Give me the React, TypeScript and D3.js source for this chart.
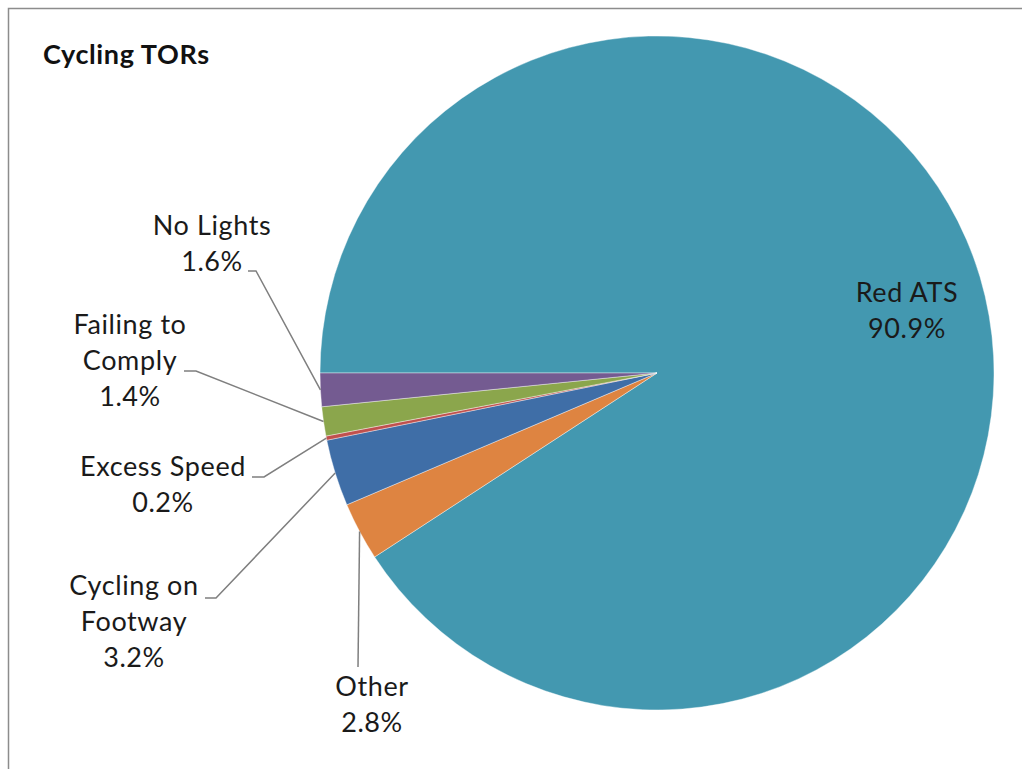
import * as d3 from 'd3';
import { useRef, useEffect } from 'react';

const categories = ['Red ATS', 'Other', 'Cycling on Footway', 'Excess Speed', 'Failing to Comply', 'No Lights'];
const values = [90.9, 2.8, 3.2, 0.2, 1.4, 1.6];
const colors = ['#4398b0', '#de8441', '#3f6ea7', '#c0504d', '#8ba64c', '#745b91'];
// label text lines per slice (last line is the percent)
const labelLines = [
    ['Red ATS'],
    ['Other'],
    ['Cycling on', 'Footway'],
    ['Excess Speed'],
    ['Failing to', 'Comply'],
    ['No Lights'],
];

const App = () => {
    const ref = useRef<SVGSVGElement>(null);

    useEffect(() => {
        if (!ref.current) return;
        const root = d3.select(ref.current);
        root.selectAll('*').remove();

        const width = 1022, height = 769;
        const cx = 657, cy = 373, r = 337;
        const font = 'Lato, "Open Sans", sans-serif';

        // outer border (only top/left visible in the crop)
        root.append('rect')
            .attr('x', 8.5).attr('y', 8.5)
            .attr('width', width + 20).attr('height', height + 20)
            .attr('fill', 'white')
            .attr('stroke', '#8c8c8c')
            .attr('stroke-width', 1.5);

        root.append('text')
            .attr('x', 43).attr('y', 64)
            .attr('font-family', font)
            .attr('font-weight', 'bold')
            .attr('font-size', 27)
            .attr('letter-spacing', 0.6)
            .attr('fill', '#111')
            .text('Cycling TORs');

        const pie = d3.pie<number>()
            .sort(null)
            .value(d => d)
            .startAngle(1.5 * Math.PI)
            .endAngle(3.5 * Math.PI);
        const arcs = pie(values);
        const arc = d3.arc<d3.PieArcDatum<number>>().innerRadius(0).outerRadius(r);

        const g = root.append('g').attr('transform', `translate(${cx},${cy})`);
        g.selectAll('path')
            .data(arcs)
            .enter().append('path')
            .attr('d', arc)
            .attr('fill', (_, i) => colors[i])
            .attr('stroke', 'white')
            .attr('stroke-width', 0.4);

        // label layout: text center x, first line center y, edge/elbow of leader
        const layout: { x: number; y: number; edge?: [number, number]; elbow?: [number, number] }[] = [
            { x: 907, y: 293 },
            { x: 372, y: 687, edge: [358, 667], elbow: [358, 667] },
            { x: 134, y: 586, edge: [205, 598], elbow: [216, 598] },
            { x: 163, y: 467, edge: [252, 477], elbow: [264, 477] },
            { x: 130, y: 325, edge: [184, 371], elbow: [196, 371] },
            { x: 212, y: 226, edge: [248, 271], elbow: [256, 271] },
        ];

        const pt = (a: number, rad: number): [number, number] =>
            [cx + rad * Math.sin(a), cy - rad * Math.cos(a)];

        arcs.forEach((d, i) => {
            const L = layout[i];
            if (L.edge && L.elbow) {
                const mid = (d.startAngle + d.endAngle) / 2;
                const p = pt(mid, r);
                root.append('polyline')
                    .attr('points', [L.edge, L.elbow, p].map(q => q.join(',')).join(' '))
                    .attr('fill', 'none')
                    .attr('stroke', '#7f7f7f')
                    .attr('stroke-width', 1.5);
            }
            const lines = [...labelLines[i], d3.format('.1f')(values[i]) + '%'];
            const t = root.append('text')
                .attr('font-family', font)
                .attr('font-size', 27)
                .attr('letter-spacing', 0.6)
                .attr('fill', '#1a1a1a')
                .attr('text-anchor', 'middle');
            lines.forEach((s, k) => {
                t.append('tspan')
                    .attr('x', L.x)
                    .attr('y', L.y + k * 36)
                    .attr('dy', '0.35em')
                    .text(s);
            });
        });
    }, []);

    return (
        <svg ref={ref} width={1022} height={769}
            style={{ position: 'absolute', left: 0, top: 0, background: 'white' }} />
    );
};

export default App;
